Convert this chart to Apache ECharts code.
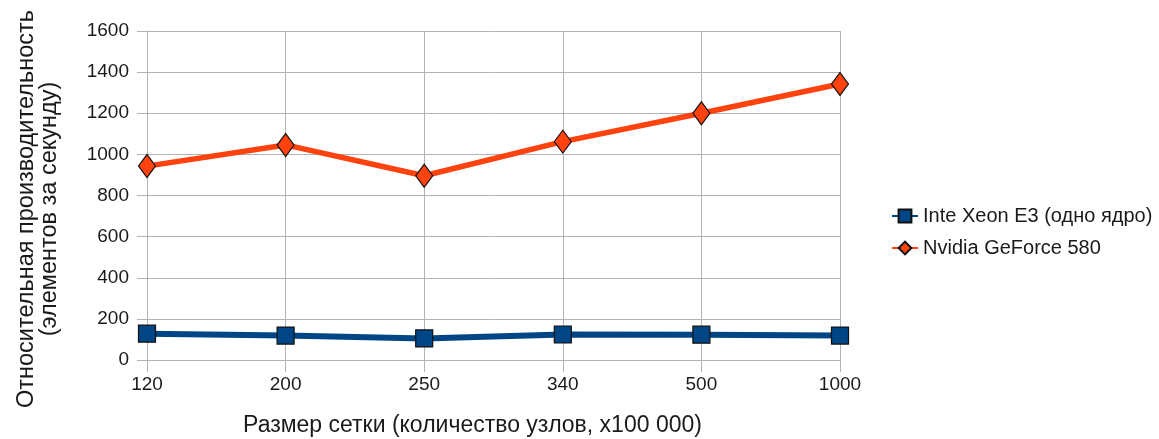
<!DOCTYPE html>
<html><head><meta charset="utf-8">
<script src="https://cdn.jsdelivr.net/npm/echarts@6/dist/echarts.min.js"></script>
<style>html,body{margin:0;padding:0;background:#fff}#c{width:1159px;height:439px}</style>
</head><body><div id="c"></div>
<script>
const categories = ['120', '200', '250', '340', '500', '1000'];
const xeonValues = [128, 119, 105, 124, 123, 119];
const nvidiaValues = [943, 1046, 896, 1062, 1200, 1342];
const yTicks = [0, 200, 400, 600, 800, 1000, 1200, 1400, 1600];
const seriesNames = ['Inte Xeon E3 (одно ядро)', 'Nvidia GeForce 580'];
const xTitle = 'Размер сетки (количество узлов, x100 000)';
const yTitle = 'Относительная производительность\n(элементов за секунду)';

const font = 'Liberation Sans, Arial, sans-serif';
const textColor = '#1a1a1a';
const chart = echarts.init(document.getElementById('c'));
chart.setOption({
  animation: false,
  textStyle: { fontFamily: font },
  grid: { left: 147, right: 319, top: 31, bottom: 79, containLabel: false, outerBoundsMode: 'none' },
  legend: {
    orient: 'vertical', left: 886, top: 201, itemGap: 12,
    itemWidth: 26, itemHeight: 16,
    textStyle: { fontSize: 20, color: textColor, fontFamily: font },
    data: seriesNames
  },
  xAxis: {
    type: 'category', data: categories, boundaryGap: false,
    name: xTitle, nameLocation: 'middle', nameGap: 54,
    nameTextStyle: { fontSize: 23, color: textColor, fontFamily: font, padding: [0, 42, 0, 0] },
    axisLine: { lineStyle: { color: '#b3b3b3' } },
    axisTick: { show: true, length: 12, lineStyle: { color: '#b3b3b3' } },
    axisLabel: { fontSize: 19, color: textColor, margin: 15 },
    splitLine: { show: true, lineStyle: { color: '#b3b3b3' } }
  },
  yAxis: {
    type: 'value', min: yTicks[0], max: yTicks[yTicks.length - 1], interval: 200,
    name: yTitle, nameLocation: 'middle', nameGap: 86, nameRotate: 90,
    nameTextStyle: { fontSize: 23.5, color: textColor, fontFamily: font, lineHeight: 23, padding: [0, 27, 0, 0] },
    axisLine: { show: true, lineStyle: { color: '#b3b3b3' } },
    axisTick: { show: true, length: 10, lineStyle: { color: '#b3b3b3' } },
    axisLabel: { fontSize: 19, color: textColor, margin: 18, formatter: v => String(v) },
    splitLine: { show: true, lineStyle: { color: '#b3b3b3' } }
  },
  series: [
    {
      name: seriesNames[0], type: 'line', data: xeonValues,
      symbol: 'rect', symbolSize: 17,
      lineStyle: { color: '#004586', width: 6 },
      itemStyle: { color: '#004586', borderColor: '#111', borderWidth: 1.2 },
      z: 3
    },
    {
      name: seriesNames[1], type: 'line', data: nvidiaValues,
      symbol: 'diamond', symbolSize: [17, 23],
      lineStyle: { color: '#ff420e', width: 5.5 },
      itemStyle: { color: '#ff420e', borderColor: '#111', borderWidth: 1.2 },
      z: 3
    }
  ]
});
</script></body></html>
